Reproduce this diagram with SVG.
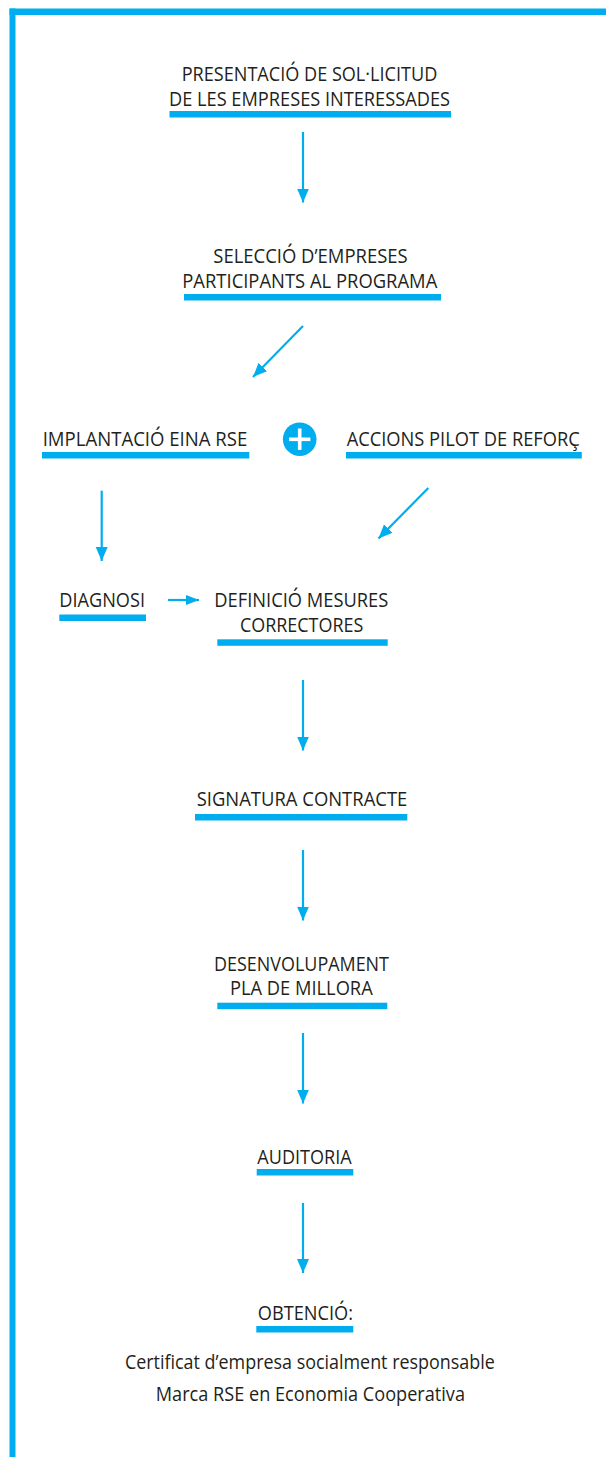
<svg xmlns="http://www.w3.org/2000/svg" width="606" height="1457" viewBox="0 0 606 1457">
  <style>
    .t { font-family: "Open Sans", "Noto Sans", "Liberation Sans", sans-serif; font-size: 20px; fill: #231f20; }
    .u { fill: #00aeef; }
    .c { stroke: #00aeef; stroke-width: 2.2; fill: none; }
  </style>
  <defs>
    <marker id="ah" markerUnits="userSpaceOnUse" markerWidth="16" markerHeight="14" refX="14" refY="6" orient="auto">
      <path d="M0,0 L14,6 L0,12 Z" fill="#00aeef"/>
    </marker>
    <marker id="ahs" markerUnits="userSpaceOnUse" markerWidth="16" markerHeight="12" refX="13" refY="5" orient="auto">
      <path d="M0,0 L13,5 L0,10 Z" fill="#00aeef"/>
    </marker>
  </defs>

  <g id="frame">
    <rect x="9.5" y="8.5" width="6" height="1448.5" class="u"/>
    <rect x="9.5" y="8.5" width="596.5" height="6.5" class="u"/>
  </g>

  <g id="connectors">
    <line class="c" x1="303" y1="132" x2="303" y2="202.5" marker-end="url(#ah)"/>
    <line class="c" x1="303" y1="326" x2="253" y2="377" marker-end="url(#ah)"/>
    <line class="c" x1="101.7" y1="490.7" x2="101.7" y2="561" marker-end="url(#ah)"/>
    <line class="c" x1="428.3" y1="488" x2="378.5" y2="538.5" marker-end="url(#ah)"/>
    <line class="c" x1="168" y1="600" x2="199" y2="600" marker-end="url(#ahs)"/>
    <line class="c" x1="303" y1="680" x2="303" y2="750.5" marker-end="url(#ah)"/>
    <line class="c" x1="303" y1="850" x2="303" y2="920.5" marker-end="url(#ah)"/>
    <line class="c" x1="303" y1="1033" x2="303" y2="1103.5" marker-end="url(#ah)"/>
    <line class="c" x1="303" y1="1203" x2="303" y2="1273" marker-end="url(#ah)"/>
  </g>

  <g id="n-presentacio">
    <text class="t" x="181.7" y="81.2" textLength="255.6" lengthAdjust="spacingAndGlyphs">PRESENTACIÓ DE SOL·LICITUD</text>
    <text class="t" x="169" y="105.7" textLength="281" lengthAdjust="spacingAndGlyphs">DE LES EMPRESES INTERESSADES</text>
    <rect class="u" x="169.5" y="111" width="281.5" height="6.5"/>
  </g>

  <g id="n-seleccio">
    <text class="t" x="213.3" y="263.3" textLength="194.4" lengthAdjust="spacingAndGlyphs">SELECCIÓ D’EMPRESES</text>
    <text class="t" x="182.3" y="287.7" textLength="255" lengthAdjust="spacingAndGlyphs">PARTICIPANTS AL PROGRAMA</text>
    <rect class="u" x="184" y="294" width="257" height="6.5"/>
  </g>

  <g id="n-implantacio">
    <text class="t" x="42.7" y="446" textLength="204.6" lengthAdjust="spacingAndGlyphs">IMPLANTACIÓ EINA RSE</text>
    <rect class="u" x="42" y="452" width="207.3" height="6.5"/>
  </g>

  <g id="n-plus">
    <circle cx="299.7" cy="439.2" r="16.8" fill="#00aeef"/>
    <rect x="289" y="437.5" width="21.4" height="3.6" fill="#ffffff"/>
    <rect x="297.9" y="428.5" width="3.6" height="21.4" fill="#ffffff"/>
  </g>

  <g id="n-accions">
    <text class="t" x="346.7" y="446" textLength="233.1" lengthAdjust="spacingAndGlyphs">ACCIONS PILOT DE REFORÇ</text>
    <rect class="u" x="346" y="452" width="235.8" height="6.5"/>
  </g>

  <g id="n-diagnosi">
    <text class="t" x="59.3" y="606.7" textLength="85.7" lengthAdjust="spacingAndGlyphs">DIAGNOSI</text>
    <rect class="u" x="59.3" y="614.5" width="86.7" height="6.5"/>
  </g>

  <g id="n-definicio">
    <text class="t" x="214.3" y="606.7" textLength="174" lengthAdjust="spacingAndGlyphs">DEFINICIÓ MESURES</text>
    <text class="t" x="240" y="631.7" textLength="123.3" lengthAdjust="spacingAndGlyphs">CORRECTORES</text>
    <rect class="u" x="217.3" y="639.3" width="170.4" height="6.5"/>
  </g>

  <g id="n-signatura">
    <text class="t" x="196.7" y="806" textLength="210.6" lengthAdjust="spacingAndGlyphs">SIGNATURA CONTRACTE</text>
    <rect class="u" x="195" y="814" width="212.3" height="6.5"/>
  </g>

  <g id="n-desenvolupament">
    <text class="t" x="214" y="970.7" textLength="175" lengthAdjust="spacingAndGlyphs">DESENVOLUPAMENT</text>
    <text class="t" x="230" y="995" textLength="142.7" lengthAdjust="spacingAndGlyphs">PLA DE MILLORA</text>
    <rect class="u" x="217.3" y="1002.7" width="170" height="6.5"/>
  </g>

  <g id="n-auditoria">
    <text class="t" x="257.3" y="1164" textLength="94.4" lengthAdjust="spacingAndGlyphs">AUDITORIA</text>
    <rect class="u" x="256.7" y="1169" width="96.6" height="6.5"/>
  </g>

  <g id="n-obtencio">
    <text class="t" x="257.8" y="1320" textLength="95.2" lengthAdjust="spacingAndGlyphs">OBTENCIÓ:</text>
    <rect class="u" x="256.3" y="1326" width="97" height="6.5"/>
    <text class="t" x="124.9" y="1369" textLength="369.9" lengthAdjust="spacingAndGlyphs">Certificat d’empresa socialment responsable</text>
    <text class="t" x="155.8" y="1401" textLength="309.2" lengthAdjust="spacingAndGlyphs">Marca RSE en Economia Cooperativa</text>
  </g>
</svg>
